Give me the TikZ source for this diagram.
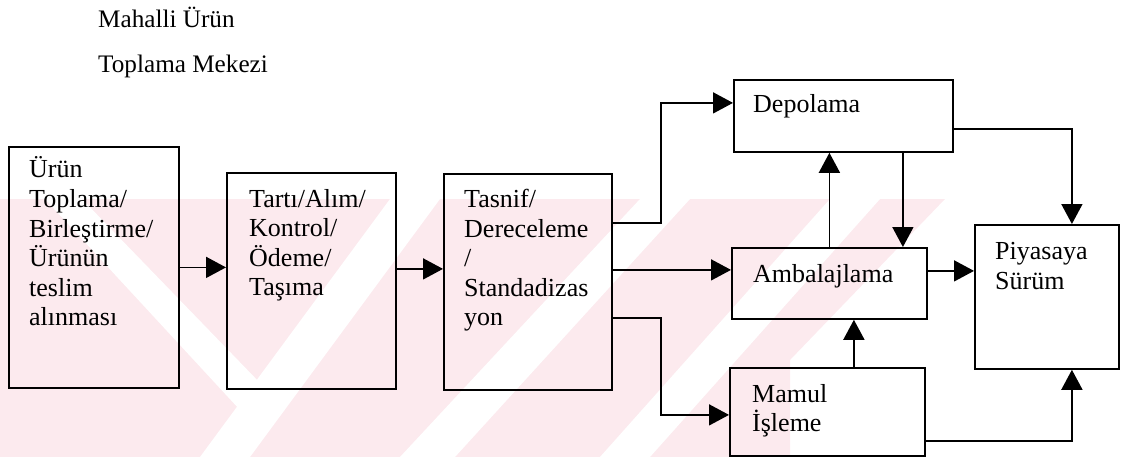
\documentclass[tikz,border=0pt]{standalone}
\usepackage{fontspec}
\setmainfont{Liberation Serif}
\usetikzlibrary{arrows.meta}

\definecolor{wmpink}{RGB}{252,234,238}

\tikzset{
  box/.style={draw=black, line width=1.8pt, rectangle, inner sep=0pt, anchor=north west},
  lbl/.style={inner sep=0pt, anchor=base west, align=left, text width=#1,
              font=\fontsize{26}{29.5}\selectfont},
  lbl/.default=190pt,
  arr/.style={line width=1.7pt, -{Triangle[length=20pt,width=21pt]}},
  ttl/.style={inner sep=0pt, anchor=base west, font=\fontsize{25.2}{29}\selectfont},
}

\begin{document}
\begin{tikzpicture}[x=1pt,y=-1pt]
\useasboundingbox (0,0) rectangle (1123,457);

% faint background stripes
\begin{scope}
  \clip (0,199) -- (945,199) -- (945,457) -- (0,457) -- cycle;
  \fill[wmpink] (0,199) -- (945,199) -- (790,360) -- (790,457) -- (0,457) -- cycle;
  \fill[white] (45,199) -- (82,199) -- (262,385) -- (240,410) -- cycle;
  \fill[white] (200,457) -- (250,457) -- (440,199) -- (390,199) -- cycle;
  \fill[white] (400,457) -- (455,457) -- (690,199) -- (640,199) -- cycle;
  \fill[white] (600,457) -- (650,457) -- (880,199) -- (830,199) -- cycle;
\end{scope}

% title
\node[ttl] (t1) at (98,28) {Mahalli Ürün};
\node[ttl] (t2) at (98,73) {Toplama Mekezi};

% boxes
\node[box, minimum width=170pt, minimum height=241pt] (b1) at (8,146) {};
\node[box, minimum width=169pt, minimum height=216pt] (b2) at (226,172) {};
\node[box, minimum width=168pt, minimum height=216pt] (b3) at (443,173) {};
\node[box, minimum width=219pt, minimum height=72pt]  (dep) at (733,79) {};
\node[box, minimum width=195pt, minimum height=71pt]  (amb) at (731,247) {};
\node[box, minimum width=195pt, minimum height=88pt]  (mam) at (729,367) {};
\node[box, minimum width=144pt, minimum height=144pt] (piy) at (974,224) {};

% box texts
\node[lbl=150pt] (b1t) at (29,178) {Ürün\\Toplama/\\Birleştirme/\\Ürünün\\teslim\\alınması};
\node[lbl=145pt] (b2t) at (249,207) {Tartı/Alım/\\Kontrol/\\Ödeme/\\Taşıma};
\node[lbl=145pt] (b3t) at (464,207.5) {Tasnif/\\Dereceleme\\/\\Standadizas\\yon};
\node[lbl] (dept) at (753,113) {Depolama};
\node[lbl] (ambt) at (753,282) {Ambalajlama};
\node[lbl] (mamt) at (752,402) {Mamul\\İşleme};
\node[lbl=120pt] (piyt) at (995,259.5) {Piyasaya\\Sürüm};

% connectors
\draw[arr] (b1.east) -- (b1.east -| b2.west);
\draw[arr] ([yshift=12pt]b2.east) -- ([yshift=12pt]b2.east -| b3.west);
\draw[arr] ([yshift=59pt]b3.east) -- ++(48,0) |- ([yshift=13pt]dep.west);
\draw[arr] ([yshift=12pt]b3.east) -- ([yshift=12pt]b3.east -| amb.west);
\draw[arr] ([yshift=-36pt]b3.east) -- ++(48,0) |- ([yshift=-3pt]mam.west);
\draw[arr] (amb.north) -- (amb.north |- dep.south);
\draw[arr] ([xshift=59.5pt]dep.south) -- ([xshift=59.5pt]dep.south |- amb.north);
\draw[arr] ([yshift=-13pt]dep.east) -| ([xshift=25pt]piy.north);
\draw[arr] ([yshift=12.5pt]amb.east) -- ([yshift=12.5pt]amb.east -| piy.west);
\draw[arr] ([xshift=26.5pt]mam.north) -- ([xshift=26.5pt]mam.north |- amb.south);
\draw[arr] ([yshift=-29pt]mam.east) -| ([xshift=25pt]piy.south);
\end{tikzpicture}
\end{document}
